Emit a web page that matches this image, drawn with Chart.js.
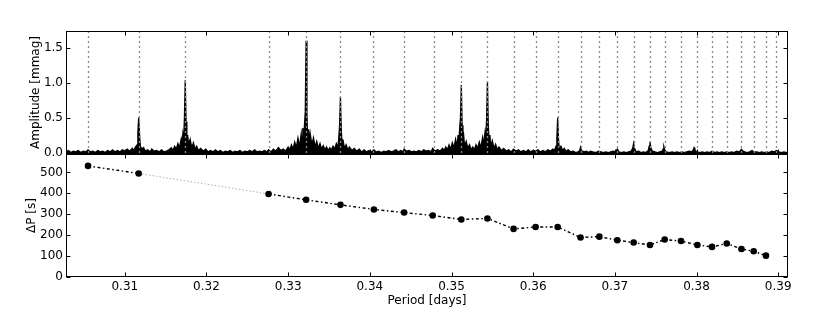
<!DOCTYPE html>
<html>
<head>
<meta charset="utf-8">
<script src="https://cdn.jsdelivr.net/npm/chart.js@4.4.1/dist/chart.umd.min.js"></script>
<style>
  html, body { margin: 0; padding: 0; background: #fff; }
  #wrap { position: relative; width: 830px; height: 312px; }
  #wrap canvas { position: absolute; left: 0; top: 0; }
</style>
</head>
<body>
<div id="wrap">
  <canvas id="ampChart" width="830" height="312"></canvas>
  <canvas id="spacingChart" width="830" height="312"></canvas>
</div>
<script>
// x range shared by both panels (days)
const periodMin = 0.3028;
const periodMax = 0.3912;

// periods of the marked modes (vertical dotted lines in the top panel)
const linePeriods = [0.3055, 0.3117, 0.3174, 0.3276, 0.3322, 0.3364, 0.3404, 0.3442, 0.3478,
  0.3512, 0.3544, 0.3576, 0.3603, 0.3630, 0.3658, 0.3681, 0.3703, 0.3723, 0.3743, 0.3761,
  0.3781, 0.3801, 0.3819, 0.3837, 0.3855, 0.3870, 0.3885, 0.3897];

// bottom panel: period spacing at each mode
const modePeriods = [0.3055, 0.3117, 0.3276, 0.3322, 0.3364, 0.3405, 0.3442, 0.3477, 0.3512,
  0.3544, 0.3576, 0.3603, 0.3630, 0.3658, 0.3681, 0.3703, 0.3723, 0.3743, 0.3761, 0.3781,
  0.3801, 0.3819, 0.3837, 0.3855, 0.3870, 0.3885];
const deltaP = [531, 495, 397, 369, 345, 323, 308, 294, 275, 280, 230, 239, 239, 189, 193,
  176, 165, 153, 179, 172, 153, 144, 160, 134, 123, 102];
// index of the segment drawn as a faint dotted line (missing mode)
const gapSegments = [1];

// amplitude spectrum [period, amplitude in mmag]
const spectrum = [
  [0.3028,0.02],[0.3031,0.04],[0.3034,0.01],[0.3037,0.03],[0.3040,0.02],[0.3043,0.04],
  [0.3046,0.01],[0.3049,0.03],[0.3052,0.02],[0.3055,0.05],[0.3058,0.02],[0.3061,0.03],
  [0.3064,0.01],[0.3067,0.04],[0.3070,0.02],[0.3073,0.03],[0.3076,0.01],[0.3079,0.04],
  [0.3082,0.02],[0.3085,0.05],[0.3088,0.02],[0.3091,0.04],[0.3094,0.02],[0.3097,0.05],
  [0.3100,0.03],[0.3103,0.06],[0.3106,0.03],[0.3109,0.07],[0.3111,0.04],[0.3113,0.09],
  [0.3115,0.12],[0.3116,0.30],[0.3117,0.51],[0.3118,0.28],[0.3119,0.10],[0.3121,0.06],
  [0.3123,0.08],[0.3125,0.03],[0.3128,0.05],[0.3131,0.02],[0.3133,0.06],[0.3136,0.03],
  [0.3139,0.04],[0.3142,0.02],[0.3145,0.05],[0.3148,0.02],[0.3151,0.03],[0.3154,0.05],
  [0.3157,0.08],[0.3159,0.04],[0.3161,0.10],[0.3163,0.06],[0.3165,0.14],[0.3167,0.08],
  [0.3169,0.20],[0.3170,0.12],[0.3171,0.27],[0.3172,0.18],[0.3173,0.50],[0.3174,1.04],
  [0.3175,0.45],[0.3176,0.15],[0.3177,0.26],[0.3178,0.12],[0.3180,0.20],[0.3182,0.08],
  [0.3184,0.15],[0.3186,0.06],[0.3188,0.10],[0.3190,0.04],[0.3193,0.07],[0.3196,0.03],
  [0.3199,0.06],[0.3202,0.02],[0.3205,0.04],[0.3208,0.02],[0.3211,0.05],[0.3214,0.02],
  [0.3217,0.04],[0.3220,0.01],[0.3223,0.03],[0.3226,0.02],[0.3229,0.04],[0.3232,0.01],
  [0.3235,0.03],[0.3238,0.02],[0.3241,0.04],[0.3244,0.01],[0.3247,0.03],[0.3250,0.02],
  [0.3253,0.04],[0.3256,0.02],[0.3259,0.05],[0.3262,0.02],[0.3265,0.03],[0.3268,0.02],
  [0.3271,0.04],[0.3274,0.02],[0.3276,0.05],[0.3279,0.02],[0.3282,0.06],[0.3285,0.03],
  [0.3288,0.08],[0.3291,0.04],[0.3294,0.06],[0.3297,0.03],[0.3300,0.09],[0.3302,0.05],
  [0.3304,0.12],[0.3306,0.06],[0.3308,0.16],[0.3310,0.08],[0.3312,0.22],[0.3314,0.10],
  [0.3316,0.28],[0.3317,0.14],[0.3318,0.36],[0.3319,0.18],[0.3320,0.40],[0.3321,0.60],
  [0.3322,1.60],[0.3323,0.55],[0.3324,0.20],[0.3325,0.34],[0.3326,0.15],[0.3327,0.28],
  [0.3329,0.12],[0.3331,0.22],[0.3333,0.09],[0.3335,0.17],[0.3337,0.07],[0.3339,0.14],
  [0.3341,0.06],[0.3343,0.11],[0.3345,0.05],[0.3347,0.09],[0.3349,0.04],[0.3351,0.08],
  [0.3353,0.05],[0.3355,0.10],[0.3357,0.06],[0.3359,0.14],[0.3361,0.08],[0.3362,0.22],
  [0.3363,0.40],[0.3364,0.80],[0.3365,0.35],[0.3366,0.12],[0.3367,0.20],[0.3369,0.07],
  [0.3371,0.12],[0.3373,0.05],[0.3375,0.09],[0.3378,0.04],[0.3381,0.07],[0.3384,0.03],
  [0.3387,0.06],[0.3390,0.02],[0.3393,0.05],[0.3396,0.02],[0.3399,0.04],[0.3402,0.02],
  [0.3405,0.05],[0.3408,0.02],[0.3411,0.03],[0.3414,0.01],[0.3417,0.03],[0.3420,0.02],
  [0.3423,0.04],[0.3426,0.02],[0.3429,0.03],[0.3432,0.05],[0.3435,0.02],[0.3438,0.04],
  [0.3441,0.02],[0.3442,0.06],[0.3445,0.03],[0.3448,0.04],[0.3451,0.02],[0.3454,0.03],
  [0.3457,0.02],[0.3460,0.04],[0.3463,0.02],[0.3466,0.05],[0.3469,0.03],[0.3472,0.04],
  [0.3475,0.02],[0.3477,0.07],[0.3480,0.03],[0.3483,0.05],[0.3486,0.03],[0.3489,0.07],
  [0.3491,0.04],[0.3493,0.09],[0.3495,0.05],[0.3497,0.12],[0.3499,0.06],[0.3501,0.15],
  [0.3503,0.08],[0.3505,0.20],[0.3507,0.10],[0.3508,0.26],[0.3509,0.14],[0.3510,0.36],
  [0.3511,0.50],[0.3512,0.97],[0.3513,0.40],[0.3514,0.16],[0.3515,0.24],[0.3516,0.10],
  [0.3518,0.17],[0.3520,0.07],[0.3522,0.12],[0.3524,0.05],[0.3526,0.09],[0.3528,0.05],
  [0.3530,0.12],[0.3532,0.07],[0.3534,0.16],[0.3536,0.08],[0.3538,0.22],[0.3539,0.12],
  [0.3541,0.30],[0.3542,0.18],[0.3543,0.50],[0.3544,1.02],[0.3545,0.42],[0.3546,0.15],
  [0.3547,0.26],[0.3548,0.10],[0.3550,0.18],[0.3552,0.07],[0.3554,0.13],[0.3556,0.05],
  [0.3558,0.09],[0.3561,0.04],[0.3564,0.07],[0.3567,0.03],[0.3570,0.05],[0.3573,0.02],
  [0.3576,0.06],[0.3579,0.03],[0.3582,0.05],[0.3585,0.02],[0.3588,0.04],[0.3591,0.02],
  [0.3594,0.05],[0.3597,0.02],[0.3600,0.04],[0.3603,0.03],[0.3606,0.05],[0.3609,0.02],
  [0.3612,0.04],[0.3615,0.02],[0.3618,0.05],[0.3621,0.03],[0.3624,0.06],[0.3626,0.04],
  [0.3628,0.10],[0.3629,0.22],[0.3630,0.51],[0.3631,0.20],[0.3632,0.06],[0.3634,0.10],
  [0.3636,0.04],[0.3638,0.07],[0.3640,0.03],[0.3643,0.05],[0.3646,0.02],[0.3649,0.03],
  [0.3652,0.01],[0.3655,0.02],[0.3657,0.04],[0.3658,0.085],[0.3659,0.04],[0.3662,0.02],
  [0.3665,0.03],[0.3668,0.01],[0.3670,0.03],[0.3673,0.02],[0.3677,0.01],[0.3680,0.03],
  [0.3683,0.02],[0.3686,0.01],[0.3689,0.02],[0.3692,0.01],[0.3695,0.02],[0.3698,0.03],
  [0.3701,0.02],[0.3703,0.06],[0.3705,0.02],[0.3708,0.01],[0.3711,0.02],[0.3714,0.01],
  [0.3717,0.02],[0.3720,0.03],[0.3722,0.08],[0.3723,0.14],[0.3724,0.07],[0.3726,0.02],
  [0.3729,0.03],[0.3732,0.01],[0.3735,0.02],[0.3738,0.01],[0.3741,0.04],[0.3742,0.10],
  [0.3743,0.165],[0.3744,0.08],[0.3746,0.03],[0.3749,0.02],[0.3752,0.01],[0.3755,0.02],
  [0.3758,0.03],[0.3759,0.06],[0.3760,0.094],[0.3761,0.05],[0.3763,0.02],[0.3767,0.01],
  [0.3770,0.02],[0.3773,0.01],[0.3776,0.02],[0.3779,0.01],[0.3782,0.02],[0.3785,0.01],
  [0.3788,0.02],[0.3791,0.03],[0.3794,0.02],[0.3796,0.05],[0.3797,0.08],[0.3798,0.04],
  [0.3801,0.02],[0.3804,0.01],[0.3807,0.02],[0.3810,0.01],[0.3813,0.02],[0.3816,0.01],
  [0.3819,0.03],[0.3822,0.01],[0.3825,0.02],[0.3828,0.01],[0.3831,0.02],[0.3834,0.01],
  [0.3837,0.02],[0.3840,0.01],[0.3843,0.02],[0.3846,0.01],[0.3849,0.03],[0.3852,0.02],
  [0.3854,0.04],[0.3855,0.057],[0.3856,0.04],[0.3859,0.02],[0.3862,0.01],[0.3865,0.02],
  [0.3868,0.04],[0.3870,0.02],[0.3874,0.02],[0.3877,0.01],[0.3880,0.02],[0.3883,0.01],
  [0.3886,0.02],[0.3889,0.01],[0.3892,0.03],[0.3895,0.02],[0.3898,0.04],[0.3901,0.02],
  [0.3904,0.01],[0.3907,0.02],[0.3910,0.01],[0.3912,0.02]
];

Chart.defaults.font.family = '"DejaVu Sans", sans-serif';
Chart.defaults.font.size = 12;
Chart.defaults.color = '#000';

const plotLeft = 66, plotRight = 788;

// box round the plot area with inward ticks on all four sides
const framePlugin = {
  id: 'frame',
  afterDraw(chart) {
    const { ctx, chartArea: a, scales } = chart;
    const l = Math.round(a.left) + 0.5, r = Math.round(a.right) - 0.5;
    const t = Math.round(a.top) + 0.5, b = Math.round(a.bottom) - 0.5;
    ctx.save();
    ctx.strokeStyle = '#000';
    ctx.lineWidth = 1;
    ctx.setLineDash([]);
    ctx.beginPath();
    scales.x.ticks.forEach(tk => {
      const x = Math.round(scales.x.getPixelForValue(tk.value)) + 0.5;
      ctx.moveTo(x, b); ctx.lineTo(x, b - 4);
      ctx.moveTo(x, t); ctx.lineTo(x, t + 4);
    });
    scales.y.ticks.forEach(tk => {
      const y = Math.round(scales.y.getPixelForValue(tk.value)) + 0.5;
      ctx.moveTo(l, y); ctx.lineTo(l + 4, y);
      ctx.moveTo(r, y); ctx.lineTo(r - 4, y);
    });
    ctx.stroke();
    ctx.strokeRect(l, t, r - l, b - t);
    ctx.restore();
  }
};

// gray dotted verticals at every mode period
const modeLinesPlugin = {
  id: 'modeLines',
  afterDatasetsDraw(chart) {
    const { ctx, chartArea: a, scales } = chart;
    ctx.save();
    ctx.strokeStyle = '#8a8a8a';
    ctx.lineWidth = 1.3;
    ctx.setLineDash([2, 3]);
    linePeriods.forEach(p => {
      const x = Math.round(scales.x.getPixelForValue(p)) + 0.5;
      ctx.beginPath();
      ctx.moveTo(x, a.top);
      ctx.lineTo(x, a.bottom);
      ctx.stroke();
    });
    ctx.restore();
  }
};

new Chart(document.getElementById('ampChart'), {
  type: 'line',
  data: {
    datasets: [{
      data: spectrum.map(d => ({ x: d[0], y: d[1] })),
      borderColor: '#000',
      backgroundColor: '#000',
      fill: 'origin',
      borderWidth: 1.3,
      pointRadius: 0,
      tension: 0
    }]
  },
  options: {
    responsive: false,
    animation: false,
    devicePixelRatio: 1,
    layout: { padding: { left: 0, right: 830 - plotRight, top: 31, bottom: 312 - 154 } },
    plugins: { legend: { display: false }, tooltip: { enabled: false } },
    scales: {
      x: {
        type: 'linear', min: periodMin, max: periodMax,
        ticks: { display: false, stepSize: 0.01, includeBounds: false },
        grid: { display: false, drawTicks: false },
        border: { display: false },
        afterFit: s => { s.height = 0; }
      },
      y: {
        min: -0.01, max: 1.74,
        ticks: { stepSize: 0.5, includeBounds: false, padding: 3, callback: v => v.toFixed(1) },
        grid: { display: false, drawTicks: false },
        border: { display: false },
        title: { display: true, text: 'Amplitude [mmag]', padding: { top: 29, bottom: 0 } },
        afterFit: s => { s.width = plotLeft; }
      }
    }
  },
  plugins: [modeLinesPlugin, framePlugin]
});

new Chart(document.getElementById('spacingChart'), {
  type: 'line',
  data: {
    datasets: [{
      data: modePeriods.map((p, i) => ({ x: p, y: deltaP[i] })),
      borderColor: '#000',
      borderWidth: 1.4,
      borderDash: [3, 2.5, 1.5, 2.5],
      pointRadius: 3.3,
      pointBackgroundColor: '#000',
      pointBorderWidth: 0,
      tension: 0,
      segment: {
        borderColor: c => gapSegments.includes(c.p0DataIndex) ? '#b0b0b0' : undefined,
        borderDash: c => gapSegments.includes(c.p0DataIndex) ? [1.5, 2] : undefined,
        borderWidth: c => gapSegments.includes(c.p0DataIndex) ? 1 : undefined
      }
    }]
  },
  options: {
    responsive: false,
    animation: false,
    devicePixelRatio: 1,
    layout: { padding: { left: 0, right: 830 - plotRight, top: 154, bottom: 0 } },
    plugins: { legend: { display: false }, tooltip: { enabled: false } },
    scales: {
      x: {
        type: 'linear', min: periodMin, max: periodMax,
        ticks: { stepSize: 0.01, includeBounds: false, padding: 3, maxRotation: 0, autoSkip: false,
                 callback: v => v.toFixed(2) },
        grid: { display: false, drawTicks: false },
        border: { display: false },
        title: { display: true, text: 'Period [days]', padding: { top: 0, bottom: 4 } },
        afterFit: s => { s.height = 35; }
      },
      y: {
        min: 0, max: 588,
        ticks: { stepSize: 100, includeBounds: false, padding: 3 },
        grid: { display: false, drawTicks: false },
        border: { display: false },
        title: { display: true, text: 'ΔP [s]', padding: { top: 25, bottom: 0 } },
        afterFit: s => { s.width = plotLeft; }
      }
    }
  },
  plugins: [framePlugin]
});
</script>
</body>
</html>
